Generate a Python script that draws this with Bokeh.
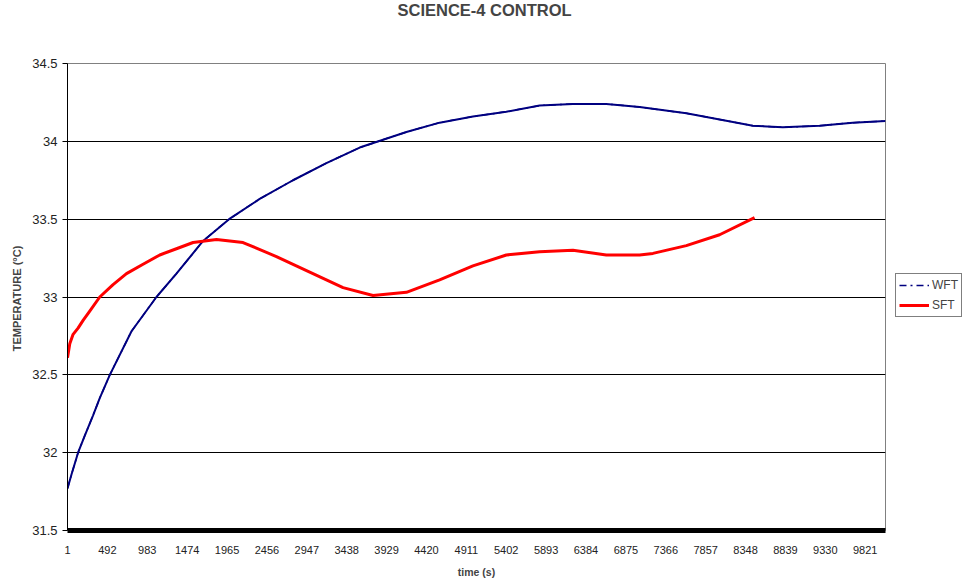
from bokeh.plotting import figure
from bokeh.models import FixedTicker, Range1d, Legend, LegendItem, NumeralTickFormatter
from bokeh.embed import file_html
from bokeh.resources import INLINE

# ---- data ----
wft_time = [1, 50, 131, 214, 316, 398, 522, 789, 1096, 1342, 1670, 1990, 2367,
            2777, 3188, 3598, 4173, 4582, 4992, 5403, 5813, 6223, 6634, 7044,
            7619, 8029, 8438, 8807, 9259, 9669, 10071]
wft_temp = [31.77, 31.86, 32.00, 32.11, 32.24, 32.35, 32.50, 32.78, 33.00, 33.15,
            33.36, 33.50, 33.63, 33.75, 33.86, 33.96, 34.06, 34.12, 34.16, 34.19,
            34.23, 34.24, 34.24, 34.22, 34.18, 34.14, 34.10, 34.09, 34.10, 34.12,
            34.13]

sft_time = [1, 29, 70, 131, 193, 275, 398, 562, 727, 931, 1137, 1342, 1547,
            1835, 2162, 2573, 2983, 3393, 3762, 4173, 4582, 4992, 5403, 5813,
            6223, 6634, 7044, 7208, 7619, 8029, 8459]
sft_temp = [32.61, 32.70, 32.76, 32.80, 32.85, 32.91, 33.00, 33.08, 33.15, 33.21,
            33.27, 33.31, 33.35, 33.37, 33.35, 33.26, 33.16, 33.06, 33.01, 33.03,
            33.11, 33.20, 33.27, 33.29, 33.30, 33.27, 33.27, 33.28, 33.33, 33.40,
            33.51]

x_ticks = [1, 492, 983, 1474, 1965, 2456, 2947, 3438, 3929, 4420, 4911, 5402,
           5893, 6384, 6875, 7366, 7857, 8348, 8839, 9330, 9821]
y_ticks = [31.5, 32, 32.5, 33, 33.5, 34, 34.5]
grid_ticks = [32, 32.5, 33, 33.5, 34]
x_start, x_end = 1, 10071
y_start, y_end = 31.5, 34.5

FONT = "Liberation Sans"

p = figure(frame_width=818, frame_height=467, output_backend="svg",
           toolbar_location=None,
           x_range=Range1d(x_start, x_end), y_range=Range1d(y_start, y_end),
           min_border_left=67, min_border_right=75, min_border_top=63,
           min_border_bottom=50)

p.background_fill_color = "white"
p.border_fill_color = "white"
p.outline_line_color = "#808080"
p.outline_line_width = 1

# title (two blank lines below it keep it at the top of the page)
p.title.text = "SCIENCE-4 CONTROL\n \n "
p.title.text_font = FONT
p.title.text_font_size = "16.5px"
p.title.text_font_style = "bold"
p.title.align = "left"
p.title.offset = 330
p.title.standoff = 0
p.title.vertical_align = "top"
p.title.text_line_height = 1.2

# y axis
p.yaxis.ticker = FixedTicker(ticks=y_ticks, minor_ticks=[])
p.yaxis.formatter = NumeralTickFormatter(format="0.[0]")
p.yaxis.axis_label = "TEMPERATURE  (°C)"
p.yaxis.axis_label_text_font = FONT
p.yaxis.axis_label_text_font_size = "11px"
p.yaxis.axis_label_text_font_style = "bold"
p.yaxis.axis_label_standoff = 6
p.yaxis.major_label_text_font = FONT
p.yaxis.major_label_text_font_size = "13px"
p.yaxis.major_label_text_color = "#222222"
p.yaxis.major_label_standoff = 5
p.yaxis.major_tick_out = 5
p.yaxis.major_tick_in = 0
p.yaxis.axis_line_color = "black"
p.yaxis.major_tick_line_color = "black"

# x axis
p.xaxis.ticker = FixedTicker(ticks=x_ticks, minor_ticks=[])
p.xaxis.formatter = NumeralTickFormatter(format="0")
p.xaxis.axis_label = "time (s)"
p.xaxis.axis_label_text_font = FONT
p.xaxis.axis_label_text_font_size = "10.5px"
p.xaxis.axis_label_text_font_style = "bold"
p.xaxis.axis_label_standoff = 9
p.xaxis.major_label_text_font = FONT
p.xaxis.major_label_text_font_size = "11px"
p.xaxis.major_label_text_color = "#222222"
p.xaxis.major_label_standoff = 15
p.xaxis.major_tick_out = 0
p.xaxis.major_tick_in = 0
p.xaxis.major_tick_line_color = None
p.xaxis.axis_line_color = "black"
p.xaxis.axis_line_width = 5

# grid
p.xgrid.visible = False
p.ygrid.ticker = FixedTicker(ticks=grid_ticks, minor_ticks=[])
p.ygrid.grid_line_color = "black"
p.ygrid.grid_line_width = 1

# data lines (dash-dot WFT copy underneath supplies the legend glyph style)
wft_leg = p.line(wft_time, wft_temp, line_color="#000080", line_width=1.5,
                 line_dash="7 4 2 4")
p.line(wft_time, wft_temp, line_color="#000080", line_width=2)
sft_line = p.line(sft_time, sft_temp, line_color="#FF0000", line_width=3)

legend = Legend(items=[LegendItem(label="WFT", renderers=[wft_leg]),
                       LegendItem(label="SFT", renderers=[sft_line])],
                location=(10, 213), orientation="vertical")
legend.label_text_font = FONT
legend.label_text_font_size = "12px"
legend.glyph_width = 30
legend.glyph_height = 16
legend.label_height = 16
legend.label_standoff = 3
legend.spacing = 4
legend.padding = 3
legend.margin = 0
legend.border_line_color = "black"
legend.border_line_width = 1
legend.background_fill_color = "white"
legend.background_fill_alpha = 1
p.add_layout(legend, "right")

open("out.html", "w").write(file_html(p, INLINE))
